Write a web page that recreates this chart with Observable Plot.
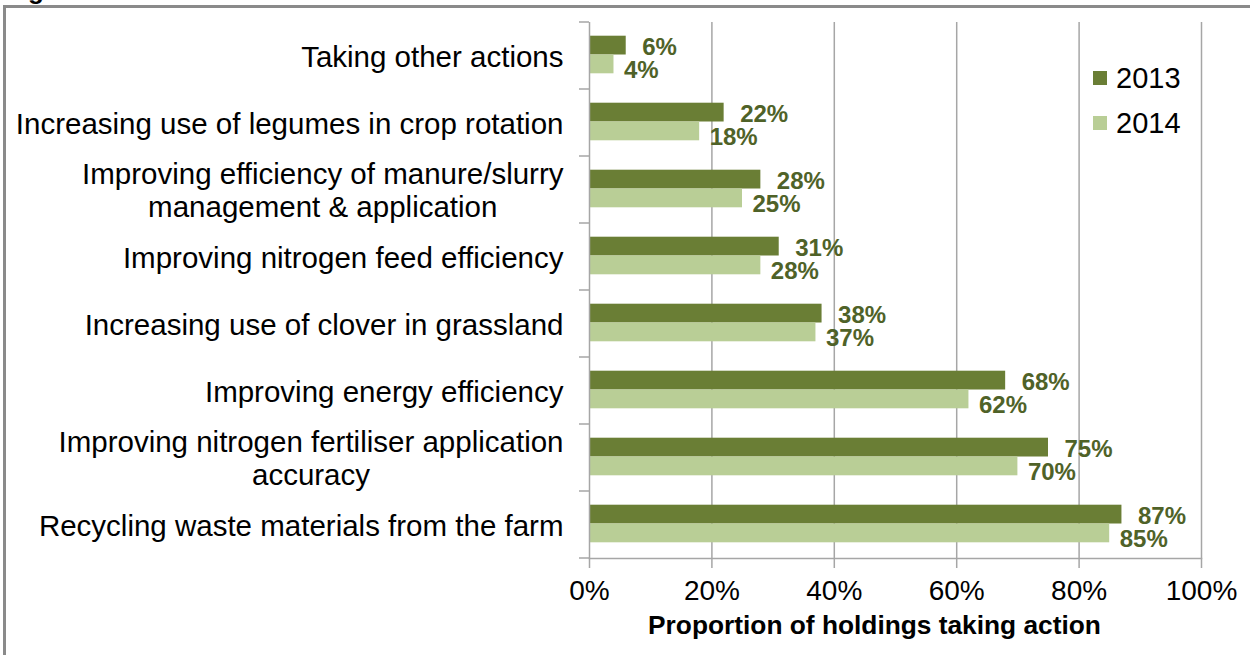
<!DOCTYPE html>
<html>
<head>
<meta charset="utf-8">
<script src="https://cdn.jsdelivr.net/npm/d3@7"></script>
<script src="https://cdn.jsdelivr.net/npm/@observablehq/plot@0.6"></script>
<style>
  html, body { margin: 0; padding: 0; background: #fff; overflow: hidden; }
  #wrap { position: relative; width: 1250px; height: 655px; overflow: hidden; font-family: Arial, "Liberation Sans", sans-serif; }
  #frame { position: absolute; left: 3px; top: 5px; width: 1300px; height: 700px; border: 3px solid #8a8a8a; box-sizing: border-box; }
  #fig { position: absolute; left: 5px; top: -23.5px; font-size: 26px; line-height: 26px; font-weight: bold; color: #000; white-space: nowrap; }
  #chart { position: absolute; left: 0; top: 0; }
  .leg { position: absolute; left: 1093px; display: flex; align-items: center; font-size: 29px; color: #000; }
  .leg .sw { width: 14px; height: 14px; margin-right: 9px; }
</style>
</head>
<body>
<div id="wrap">
  <div id="frame"></div>
  <div id="fig">Figure</div>
  <div id="chart"></div>
  <div id="legend"></div>
</div>
<script>
// ---- data ----
const categories = [
  "Taking other actions",
  "Increasing use of legumes in crop rotation",
  "Improving efficiency of manure/slurry\nmanagement & application",
  "Improving nitrogen feed efficiency",
  "Increasing use of clover in grassland",
  "Improving energy efficiency",
  "Improving nitrogen fertiliser application\naccuracy",
  "Recycling waste materials from the farm"
];
const years = ["2013", "2014"];
const values2013 = [6, 22, 28, 31, 38, 68, 75, 87];
const values2014 = [4, 18, 25, 28, 37, 62, 70, 85];
const xTicks = [0, 20, 40, 60, 80, 100];
const xTitle = "Proportion of holdings taking action";

const colors = {"2013": "#6a7e35", "2014": "#b9ce96"};
const labelColor = "#4f6228";
const gridColor = "#a6a6a6";

const d2013 = categories.map((c, i) => ({category: c, year: "2013", value: values2013[i]}));
const d2014 = categories.map((c, i) => ({category: c, year: "2014", value: values2014[i]}));

const W = 1250, H = 655;
const mL = 589, mR = 49, mT = 22, mB = 97;

const chart = Plot.plot({
  width: W,
  height: H,
  marginLeft: mL,
  marginRight: mR,
  marginTop: mT,
  marginBottom: mB,
  style: {fontFamily: "Arial, 'Liberation Sans', sans-serif", background: "transparent", color: "#000"},
  x: {domain: [0, 100], label: null},
  y: {domain: categories, padding: 0, label: null},
  marks: [
    Plot.gridX({ticks: xTicks.slice(1), stroke: gridColor, strokeOpacity: 1, strokeWidth: 1.5}),
    Plot.barX(d2013, {y: "category", x: "value", fill: colors["2013"], insetTop: 13.7, insetBottom: 34.5}),
    Plot.barX(d2014, {y: "category", x: "value", fill: colors["2014"], insetTop: 32.5, insetBottom: 15.7}),
    Plot.ruleX([0], {stroke: gridColor, strokeWidth: 1.5}),
    Plot.frame({anchor: "bottom", stroke: gridColor, strokeWidth: 1.5}),
    Plot.text(d2013, {y: "category", x: "value", text: d => d.value + "%", dx: 16, dy: -8.5, textAnchor: "start", fontWeight: "bold", fontSize: 24, fill: labelColor}),
    Plot.text(d2014, {y: "category", x: "value", text: d => d.value + "%", dx: 10, dy: 14.5, textAnchor: "start", fontWeight: "bold", fontSize: 24, fill: labelColor}),
    Plot.axisX({ticks: xTicks, tickFormat: d => d + "%", tickSize: 10, tickPadding: 12, fontSize: 28, stroke: gridColor, strokeWidth: 1.5, fill: "#000", label: null}),
    Plot.axisY({tickSize: 0, tickPadding: 26, fontSize: 29.5, lineHeight: 1.13, fill: "#000", label: null}),
    Plot.text([xTitle], {frameAnchor: "bottom", dy: 75, dx: -21, fontWeight: "bold", fontSize: 26.3, fill: "#000"})
  ]
});
document.getElementById("chart").appendChild(chart);

// centre the lines of two-line category labels on each other (block stays right-aligned)
d3.select(chart).selectAll("text").each(function() {
  const tspans = Array.from(this.querySelectorAll("tspan"));
  if (tspans.length < 2) return;
  const widths = tspans.map(t => t.getComputedTextLength());
  const maxW = Math.max(...widths);
  tspans.forEach((t, i) => {
    const base = +t.getAttribute("x") || 0;
    t.setAttribute("x", base - (maxW - widths[i]) / 2);
  });
});

// category boundary ticks on the left axis, positioned with the plot's own y scale
const ys = chart.scale("y");
const bw = ys.bandwidth;
const bounds = categories.map(c => ys.apply(c)).concat([ys.apply(categories[categories.length - 1]) + bw]);
d3.select(chart).append("g")
  .selectAll("line").data(bounds).join("line")
  .attr("x1", mL - 10).attr("x2", mL)
  .attr("y1", d => d).attr("y2", d => d)
  .attr("stroke", gridColor).attr("stroke-width", 1.5);

// legend
const legend = d3.select("#legend");
years.forEach((y, i) => {
  const row = legend.append("div").attr("class", "leg").style("top", (58 + i * 45) + "px").style("height", "40px");
  row.append("div").attr("class", "sw").style("background", colors[y]);
  row.append("span").text(y);
});
</script>
</body>
</html>
